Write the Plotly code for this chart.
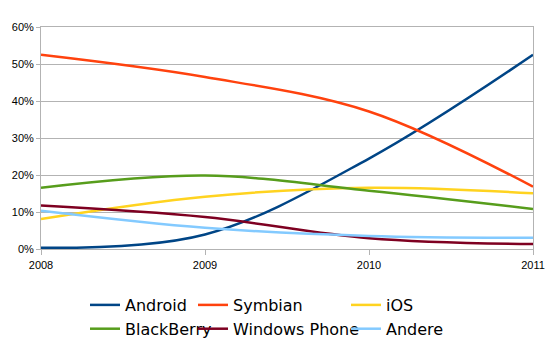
import plotly.graph_objects as go

years = [2008, 2009, 2010, 2011]
android = [0.4, 4.0, 24.5, 52.5]
symbian = [52.5, 46.5, 37.2, 16.9]
ios = [8.2, 14.2, 16.6, 15.1]
blackberry = [16.6, 19.9, 15.8, 10.9]
windows_phone = [11.8, 8.7, 3.0, 1.4]
andere = [10.4, 5.8, 3.6, 3.1]

series = [
    ("Android", android, "#004586", "legend"),
    ("Symbian", symbian, "#ff420e", "legend2"),
    ("iOS", ios, "#ffd320", "legend3"),
    ("BlackBerry", blackberry, "#579d1c", "legend"),
    ("Windows Phone", windows_phone, "#7e0021", "legend2"),
    ("Andere", andere, "#83caff", "legend3"),
]

fig = go.Figure()
for name, vals, color, lg in series:
    fig.add_trace(go.Scatter(
        x=years, y=vals, name=name, mode="lines",
        line=dict(color=color, width=2.5, shape="spline", smoothing=1.0),
        legend=lg, legendgroup=name,
    ))

grid = "#b3b3b3"
W, H = 560, 350
L, R, T, B = 41, 27, 27, 0
plot_bottom = 249.3
pw, ph = W - L - R, H - T - B
dom_bottom = (H - plot_bottom) / ph


def px_x(p):
    return (p - L) / pw


def px_y(p):
    return (H - B - p) / ph


legend_common = dict(
    xanchor="left", yanchor="top",
    orientation="v", itemwidth=30, tracegroupgap=0,
    font=dict(family="DejaVu Sans", size=16, color="#000000"),
    bgcolor="rgba(0,0,0,0)", borderwidth=0,
)
fig.update_layout(
    width=W, height=H,
    margin=dict(l=L, r=R, t=T, b=B, autoexpand=False),
    paper_bgcolor="white", plot_bgcolor="white",
    font=dict(family="Liberation Sans, Arial", size=11, color="#000000"),
    xaxis=dict(
        range=[2008, 2011], tickvals=years, ticktext=[str(y) for y in years],
        showgrid=False, zeroline=False, showline=True, linecolor=grid, linewidth=1,
        mirror=True, ticks="outside", ticklen=5, tickcolor=grid, anchor="y",
        automargin=False,
    ),
    yaxis=dict(
        domain=[dom_bottom, 1],
        range=[0, 60], tickvals=[0, 10, 20, 30, 40, 50, 60],
        ticktext=["0%", "10%", "20%", "30%", "40%", "50%", "60%"],
        showgrid=True, gridcolor=grid, gridwidth=1, zeroline=False,
        showline=True, linecolor=grid, linewidth=1, mirror=True,
        ticks="outside", ticklen=4, tickcolor=grid, automargin=False,
    ),
    legend=dict(x=px_x(85), y=px_y(288), **legend_common),
    legend2=dict(x=px_x(193), y=px_y(288), **legend_common),
    legend3=dict(x=px_x(346), y=px_y(288), **legend_common),
    showlegend=True,
)

fig.write_html("out.html")
